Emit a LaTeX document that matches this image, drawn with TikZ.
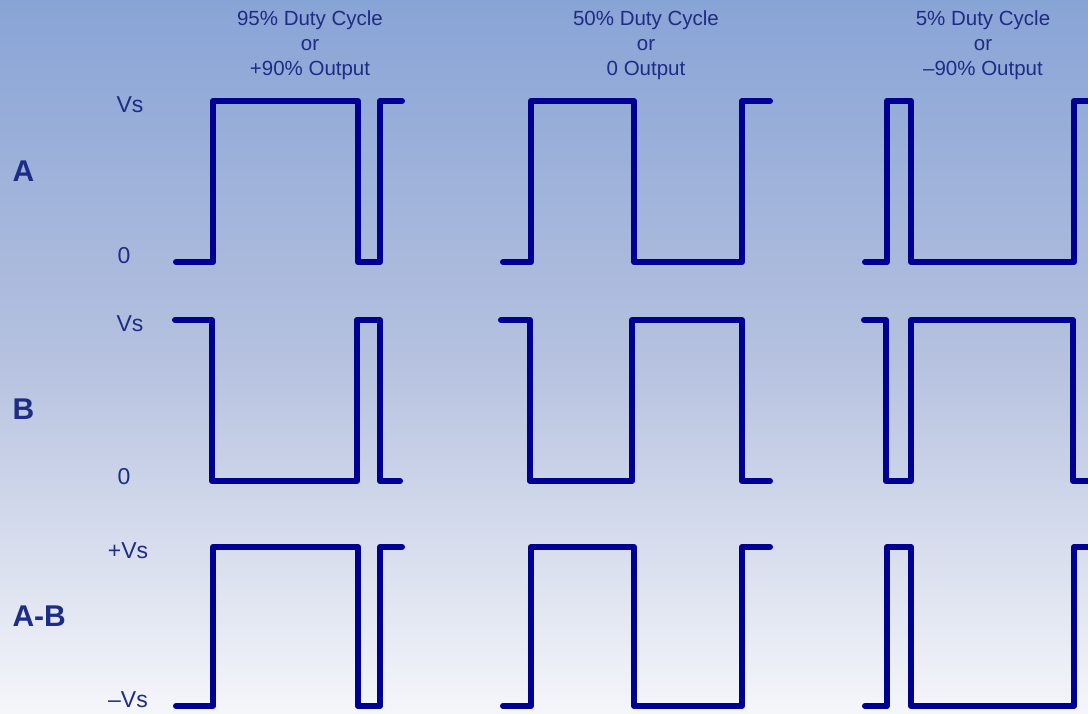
\documentclass[tikz,border=0pt]{standalone}
\usepackage{fontspec}
\setmainfont{Liberation Sans}
\usepackage{xcolor}
\usepackage{tikz}
\definecolor{wavecol}{HTML}{000092}
\definecolor{txtcol}{HTML}{1E2C84}
\definecolor{bgtop}{HTML}{88A4D6}
\definecolor{bgmid}{HTML}{B5C1DF}
\definecolor{bgbot}{HTML}{F5F6FA}

\begin{document}
\begin{tikzpicture}[x=1pt, y=-1pt,
		wave/.style={draw=wavecol, line width=6pt, line cap=round, line join=round},
		title/.style={text=txtcol, align=center, font=\fontsize{20.5}{25}\selectfont},
		lvl/.style={text=txtcol, font=\fontsize{23}{23}\selectfont},
		rowlab/.style={text=txtcol, anchor=west, font=\fontsize{30}{30}\selectfont\bfseries}]
	% background
	\shade[top color=bgtop, bottom color=bgbot, middle color=bgmid] (0,0) rectangle (1088,713);
	\useasboundingbox (0,0) rectangle (1088,713);
	\clip (0,0) rectangle (1088,713);
	
	% column titles
	\node[title] (t1) at (310,45) {95\% Duty Cycle\\or\\+90\% Output};
	\node[title] (t2) at (646,45) {50\% Duty Cycle\\or\\0 Output};
	\node[title] (t3) at (983,45) {5\% Duty Cycle\\or\\–90\% Output};
	
	% row labels
	\node[rowlab] (la) at (9,171) {A};
	\node[rowlab] (lb) at (9,409) {B};
	\node[rowlab] (lab) at (9,616) {A-B};
	
	% level labels
	\node[lvl] (ahi) at (130,105) {Vs};
	\node[lvl] (alo) at (124,256) {0};
	\node[lvl] (bhi) at (130,324) {Vs};
	\node[lvl] (blo) at (124,477) {0};
	\node[lvl] (abhi) at (128,551) {+Vs};
	\node[lvl] (ablo) at (128,700) {–Vs};
	
	% A and A-B traces
	\foreach \hi/\lo in {101/262, 547/706} {
		\draw[wave] (176,\lo) -- (213,\lo) -- (213,\hi) -- (358,\hi) -- (358,\lo) -- (380,\lo) -- (380,\hi) -- (402,\hi);
		\draw[wave] (503,\lo) -- (531,\lo) -- (531,\hi) -- (634,\hi) -- (634,\lo) -- (742,\lo) -- (742,\hi) -- (770,\hi);
		\draw[wave] (865,\lo) -- (887,\lo) -- (887,\hi) -- (911,\hi) -- (911,\lo) -- (1074,\lo) -- (1074,\hi) -- (1100,\hi);
	}
	
	% B traces
	\draw[wave] (175,320) -- (212,320) -- (212,481) -- (357,481) -- (357,320) -- (380,320) -- (380,481) -- (400,481);
	\draw[wave] (501,320) -- (530,320) -- (530,481) -- (632,481) -- (632,320) -- (742,320) -- (742,481) -- (770,481);
	\draw[wave] (864,320) -- (886,320) -- (886,481) -- (911,481) -- (911,320) -- (1073,320) -- (1073,481) -- (1100,481);
\end{tikzpicture}
\end{document}
